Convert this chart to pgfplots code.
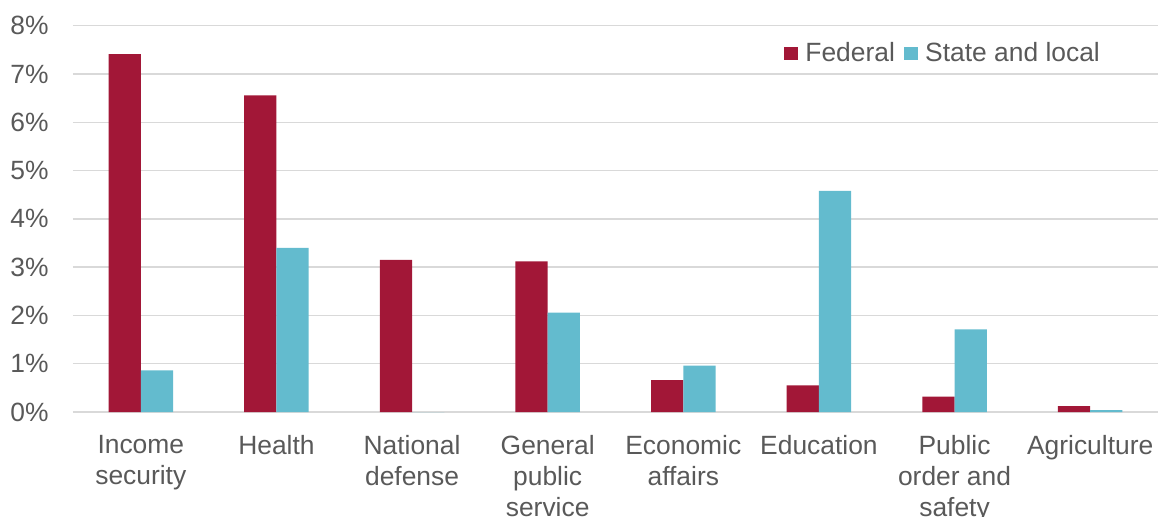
\documentclass[border=0pt]{standalone}
\usepackage{fontspec}
\setmainfont{Liberation Sans}
\usepackage{pgfplots}
\pgfplotsset{compat=1.18}
\definecolor{fed}{RGB}{162,23,55}
\definecolor{sl}{RGB}{99,187,206}
\definecolor{txt}{RGB}{89,89,89}
\definecolor{gridc}{RGB}{217,217,217}
\begin{document}
\begin{tikzpicture}
\begin{axis}[
  at={(0,0)}, anchor=south west, scale only axis,
  width=542.5pt, height=193.15pt,
  xmin=-0.5, xmax=7.5, ymin=0, ymax=8,
  ybar=0pt, bar width=16.15pt,
  axis line style={draw=none},
  ymajorgrids, grid style={gridc, line width=0.75pt},
  xtick={0,...,7},
  xticklabels={{Income\\security},Health,{National\\defense},{General\\public\\service},{Economic\\affairs},Education,{Public\\order and\\safety},Agriculture},
  ytick={0,...,8},
  yticklabel={\pgfmathprintnumber{\tick}\%},
  major tick length=0pt,
  /pgf/number format/assume math mode=true,
  tick label style={font=\fontsize{13.2}{15.5}\selectfont, text=txt},
  xticklabel style={align=center, anchor=north, inner sep=0pt, yshift=-11.5pt},
  yticklabel style={anchor=east, inner sep=0pt, xshift=-12pt},
  legend columns=2,
  legend style={at={(0.6553,0.928)}, anchor=west, draw=none, fill=none, inner sep=0pt,
    font=\fontsize{13.2}{15}\selectfont, text=txt,
    nodes={inner sep=0pt},
    /tikz/every odd column/.append style={column sep=3.65pt},
    /tikz/every even column/.append style={column sep=4.65pt}},
  legend image code/.code={\fill[#1] (0pt,-3.425pt) rectangle (6.85pt,3.425pt);},
]
\addplot[fill=fed, draw=none] coordinates {(0,7.41) (1,6.56) (2,3.15) (3,3.12) (4,0.66) (5,0.55) (6,0.32) (7,0.12)};
\addplot[fill=sl, draw=none] coordinates {(0,0.86) (1,3.40) (2,0) (3,2.06) (4,0.96) (5,4.58) (6,1.71) (7,0.04)};
\legend{Federal, State and local}
\end{axis}
\pgfresetboundingbox
\path[use as bounding box] (-36.5pt,-52pt) rectangle (542.5pt,206pt);
\end{tikzpicture}
\end{document}
